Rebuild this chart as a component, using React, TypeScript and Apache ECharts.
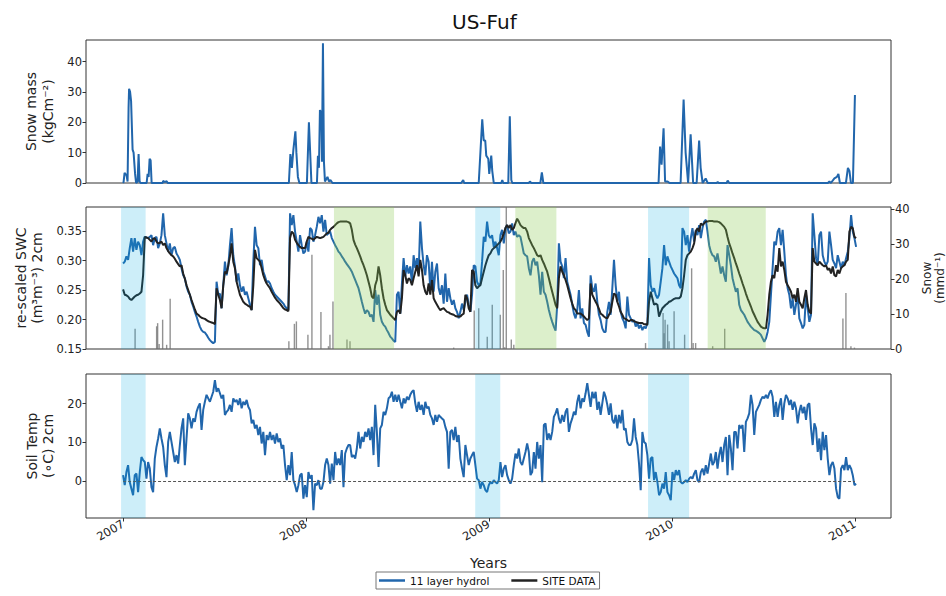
import React, { useEffect, useRef } from "react";
import * as echarts from "echarts";

const FONT = "DejaVu Sans";

// x values are days since 2007-01-01
const yearTicks = [0, 365, 730, 1096, 1461];
const yearLabels = ["2007", "2008", "2009", "2010", "2011"];
const X_MIN = -74;
const X_MAX = 1533;

// regular sampling of the model/site series (days)
const START_DAY = 0;
const STEP_DAYS = 10 / 3;

const snowMass: number[][] = [
  [0,0],[1,0.3],[3,3.3],[7,2.5],[9,0.5],[11,25],[12,31],[14,30],[16,27],[19,11],[21,10],[24,3],[26,0],[29,0.5],[31,9.5],[33,0.5],[35,0],
  [47,0],[49,3],[51,2],[53,8],[55,7.5],[57,0],[79,0],[80,0.7],[83,0.3],[87,0.6],[89,0],
  [331,0],[334,9.5],[337,5],[340,11],[344,17],[346,10],[349,2],[352,0],[367,0],[371,20],[373,12],[376,0],
  [387,0],[389,9],[391,5],[393,24],[396,23],[397,7],[399,46],[401,7],[403,0.5],[408,2],[411,0.5],[414,1],[418,0],
  [675,0],[679,1],[681,0],[710,0],[717,21],[720,14],[723,14],[725,9],[729,8],[731,3],[735,9],[737,4],[740,0],
  [755,0],[757,1],[759,0],[769,0],[772,22],[775,1],[777,0],[810,0],[812,0.5],[815,0],[833,0],[836,3.5],[839,0],
  [1069,0],[1072,12],[1075,6],[1079,18],[1082,0.5],[1087,0.5],[1091,0],[1113,0],[1119,27.5],[1123,10],[1128,0],
  [1133,16],[1138,0],[1145,0],[1150,14],[1153,5],[1157,0],[1163,1.5],[1167,0],[1185,0],[1187,0.3],[1189,0],
  [1205,0],[1207,0.8],[1210,0],[1407,0],[1410,0.5],[1413,0],[1420,1.5],[1425,2],[1428,3],[1431,0],
  [1443,0],[1447,5],[1450,4],[1453,0],[1457,0],[1461,29],
];

const snowObs: number[][] = [
  [24,5.8],[67,6.5],[69,7.4],[72,1.4],[79,8.4],[87,1.2],[94,14.4],[331,2.2],[342,7.2],[346,7.9],[369,4.1],
  [377,27],[395,10.6],[410,0.8],[413,4.1],[419,13.6],[447,2.7],[453,2.2],[660,0.4],[701,11],[710,11.7],
  [727,3.5],[737,12.7],[753,9.8],[759,22.6],[762,0.5],[765,42],[775,2.7],[780,1.2],[1043,1.7],[1078,10.3],
  [1080,4.5],[1082,8.4],[1087,7],[1090,2.2],[1100,10.8],[1121,4.1],[1135,23.1],[1138,1.7],[1143,1.7],
  [1177,0.8],[1201,5.8],[1437,8.7],[1443,16],[1453,0.8],[1460,0.4],
];

const swcModel: number[] = [
  .295,.298,.307,.301,.321,.338,.315,.338,.318,.332,
  .326,.309,.332,.340,.339,.338,.340,.343,.326,.338,
  .340,.321,.329,.343,.380,.343,.329,.315,.329,.309,
  .321,.323,.312,.307,.301,.287,.275,.270,.256,.247,
  .242,.230,.222,.213,.205,.196,.188,.182,.179,.178,
  .174,.169,.165,.162,.160,.162,.264,.242,.244,.219,
  .258,.298,.275,.290,.326,.355,.309,.290,.264,.278,
  .258,.247,.256,.242,.247,.236,.225,.216,.298,.357,
  .326,.321,.292,.301,.281,.273,.264,.265,.261,.253,
  .247,.242,.239,.236,.233,.230,.227,.222,.219,.216,
  .380,.360,.377,.349,.332,.315,.343,.326,.312,.315,
  .332,.315,.355,.352,.332,.343,.357,.374,.363,.377,
  .349,.369,.343,.346,.349,
  .338,.332,.326,.321,.315,.312,.307,.303,.298,.294,
  .290,.286,.281,.274,.267,.260,.253,.242,.230,.219,
  .210,.216,.213,.205,.208,.196,.250,.225,.242,.208,
  .196,.191,.188,.182,.177,.171,.168,.164,.162,.242,
  .247,.210,.261,.304,.273,.292,.278,.290,.261,.309,
  .287,.304,.278,.366,.321,.292,.275,.309,.298,.250,
  .298,.247,.281,.295,.253,.242,.258,.227,.278,.230,
  .253,.236,.225,.233,.219,.213,.202,.213,.227,.216,
  .230,.242,.225,.213,.242,.292,.290,.264,.258,.261,
  .298,.340,.332,.366,.343,.338,.343,.323,.332,.321,
  .309,.343,.352,.329,.355,.360,.346,.349,.363,.343,
  .349,.340,.343,.340,.326,.312,.309,.307,.287,.275,
  .298,.304,.292,.298,.275,.242,.281,.247,.242,.230,
  .216,.205,.196,.188,.181,.225,.329,.298,.290,.270,
  .304,.264,.253,.242,.225,.210,.202,.216,.250,.202,
  .219,.194,.191,.179,.171,.275,.253,.247,.261,.230,
  .208,.199,.185,.179,.179,.213,.230,.208,.253,.301,
  .258,.230,.247,.213,.202,.196,.185,.239,.208,
  .202,.196,.199,.188,.194,.185,.191,.182,.188,.185,
  .194,.304,.258,.247,.253,.242,.236,.242,.264,.287,
  .326,.292,.307,.298,.290,.284,.278,.274,.270,.258,
  .253,.355,.349,.326,.343,.315,.338,.355,.332,.352,
  .343,.360,.338,.355,.366,.369,.349,.326,.315,.309,
  .307,.298,.312,.295,.278,.290,.275,.264,.326,.309,
  .292,.270,.258,.247,.253,.225,.216,.212,.208,.202,
  .196,.192,.188,.185,.182,.181,.179,.177,.174,.168,
  .162,.168,.179,.196,.242,.287,.332,.326,.349,.355,
  .326,.352,.315,.275,.253,.242,.219,.236,.208,.225,
  .242,.202,.194,.185,.191,.242,.219,.196,.208,.380,
  .343,.304,.292,.343,.349,.309,.298,.292,.298,.349,
  .326,.301,.295,.287,.309,.298,.287,.298,.292,.304,
  .315,.338,.377,.349,.338,.323,
];

const swcSite: number[] = [
  .251,.242,.241,.239,.235,.233,.236,.239,.241,.242,
  .244,.247,.275,.340,.339,.338,.335,.332,.337,.338,
  .332,.329,.330,.332,.326,.329,.321,.316,.312,.309,
  .307,.303,.298,.294,.290,.292,.278,.269,.258,.250,
  .242,.233,.225,.217,.210,.208,.205,.203,.202,.201,
  .199,.197,.196,.195,.194,.192,.253,.242,.233,.219,
  .258,.281,.278,.292,.307,.329,.298,.287,.264,.253,
  .242,.236,.230,.227,.225,.223,.222,.216,.258,.318,
  .304,.301,.298,.287,.275,.267,.261,.257,.253,.247,
  .242,.237,.233,.230,.227,.223,.219,.217,.216,.214,
  .338,.349,.346,.335,.330,.326,.323,.321,.321,.321,
  .332,.340,.338,.337,.335,.338,.340,.339,.338,.339,
  .340,.343,.346,.347,.352,
  .355,.357,.360,.363,.365,.366,.366,.366,.366,.366,
  .365,.363,.352,.335,.327,.321,.314,.307,.299,.292,
  .284,.275,.264,.253,.239,.236,.258,.267,.290,.275,
  .253,.236,.225,.216,.212,.208,.205,.202,.199,.213,
  .216,.210,.236,.284,.275,.261,.270,.267,.258,.270,
  .281,.292,.273,.301,.284,.258,.247,.242,.261,.242,
  .267,.236,.230,.225,.220,.216,.218,.219,.216,.213,
  .212,.210,.209,.208,.206,.205,.205,.205,.208,.210,
  .242,.236,.219,.213,.284,.281,.258,.253,.256,.258,
  .270,.281,.292,.301,.309,.312,.318,.321,.323,.326,
  .329,.332,.338,.346,.355,.360,.355,.360,.352,.355,
  .363,.371,.366,.360,.357,.355,.355,.349,.338,.332,
  .326,.321,.315,.309,.307,.309,.301,.295,.288,.281,
  .270,.258,.247,.236,.225,.219,.270,.290,.281,.275,
  .267,.258,.247,.236,.227,.219,.216,.210,.210,.210,
  .208,.205,.202,.199,.202,.261,.242,.236,.230,.225,
  .218,.210,.208,.205,.203,.202,.208,.213,.230,.244,
  .242,.230,.222,.213,.208,.202,.201,.199,.197,
  .199,.199,.197,.196,.195,.194,.194,.194,.192,.192,
  .191,.230,.247,.236,.225,.227,.225,.205,.213,.219,
  .222,.225,.227,.230,.231,.233,.235,.236,.236,.236,
  .239,.253,.275,.301,.309,.312,.315,.321,.329,.349,
  .355,.349,.363,.360,.363,.366,.366,.367,.367,.367,
  .366,.366,.366,.365,.363,.360,.357,.352,.340,.329,
  .321,.312,.304,.295,.287,.278,.270,.261,.253,.244,
  .236,.229,.222,.214,.208,.202,.196,.192,.188,.186,
  .185,.185,.208,.242,.264,.275,.270,.292,.281,.321,
  .290,.298,.284,.264,.258,.253,.247,.236,.242,.230,
  .253,.230,.225,.219,.236,.250,.225,.213,.210,.321,
  .298,.295,.292,.298,.295,.292,.290,.292,.284,.287,
  .278,.290,.275,.273,.284,.278,.287,.290,.292,.298,
  .301,.349,.357,.355,.340,.338,
];

const soilTemp: number[] = [
  1.5,-1.1,2.3,4.1,-0.3,-2.0,-3.7,1.5,1.9,-2.9,
  2.3,6.2,5.4,4.9,0.6,4.9,3.2,-1.6,-2.9,5.8,
  8.8,11.0,13.6,11.0,8.8,4.1,1.0,10.1,12.7,10.1,
  7.5,4.9,6.7,4.5,9.3,13.6,16.2,4.1,11.0,17.5,
  16.2,13.6,16.2,15.3,17.9,19.2,20.1,13.2,18.4,20.5,
  22.3,21.4,20.5,21.8,23.1,26.1,23.1,24.0,22.7,21.4,
  22.3,17.1,17.9,18.4,19.7,17.9,21.4,20.5,21.0,19.7,
  21.4,18.8,20.5,19.7,21.0,19.2,18.4,14.9,15.8,13.6,
  14.5,11.9,14.0,9.7,12.7,6.7,11.9,10.6,12.7,10.6,
  11.9,9.7,12.3,10.1,11.0,8.4,9.3,4.1,0.2,4.1,
  1.5,7.5,0.2,-1.1,-2.9,-1.1,1.5,1.9,-4.6,-1.1,
  -4.2,2.3,0.6,1.5,-7.6,-0.7,-1.1,0.2,-2.0,-2.0,
  -0.3,4.1,5.8,4.1,
  -0.7,4.5,0.2,7.5,4.1,5.8,4.1,8.0,-1.6,7.1,
  8.4,9.3,9.3,6.2,6.7,5.8,8.4,12.7,8.4,11.4,
  10.1,12.7,11.4,13.6,10.6,14.0,6.7,19.7,12.7,3.6,
  13.6,14.5,17.9,17.1,18.8,21.4,21.8,23.1,20.5,22.3,
  20.5,22.3,20.5,18.8,21.4,20.1,21.8,21.0,22.3,23.1,
  23.5,20.1,17.9,20.5,18.4,19.7,17.1,20.5,18.8,19.2,
  17.1,16.2,14.5,17.1,15.3,17.1,16.6,16.2,15.8,14.0,
  12.7,3.2,12.7,13.2,10.6,14.0,10.1,11.9,5.8,3.2,
  1.0,9.3,6.7,4.1,5.8,6.7,7.5,4.1,0.6,0.2,
  -2.0,-0.3,-1.1,-2.4,-2.9,-1.1,-0.3,-0.7,0.2,-0.3,
  -0.7,0.2,4.9,1.0,3.2,4.1,1.5,0.2,-0.7,0.6,
  4.1,7.1,5.8,8.4,4.9,4.1,5.8,7.5,9.7,7.5,
  1.5,2.3,7.5,3.2,10.1,5.8,9.3,-0.3,14.5,14.9,
  10.6,12.3,10.6,12.7,16.6,17.5,18.8,16.2,14.9,17.1,
  15.3,17.9,18.8,12.7,14.9,16.2,17.9,17.1,20.5,22.3,
  18.8,21.4,20.5,22.7,25.3,22.3,19.2,23.1,21.4,23.1,
  18.4,20.5,17.1,20.1,23.1,21.8,19.7,17.1,20.1,15.8,
  14.9,17.1,13.6,17.1,14.9,18.4,13.2,13.6,10.1,9.3,
  9.3,10.6,16.2,11.4,9.3,4.5,-2.4,12.7,10.1,9.7,
  6.7,0.6,5.8,6.2,0.2,2.3,-0.3,-3.7,-2.9,-0.7,
  -2.0,2.3,-2.9,-3.7,-5.0,2.3,0.2,2.8,1.5,2.8,
  -0.3,-0.7,-0.3,0.2,-0.3,0.6,1.0,0.6,1.9,2.8,
  0.2,-0.3,2.3,3.2,1.5,4.1,1.9,4.5,7.1,4.1,
  4.9,7.5,3.2,6.7,8.8,4.9,9.3,11.4,1.5,11.9,
  8.4,2.8,12.7,12.7,8.4,14.5,13.6,14.5,7.5,15.3,
  16.2,17.5,22.3,19.7,11.9,17.9,18.8,19.7,21.0,21.8,
  21.4,22.3,21.4,22.7,23.5,21.8,16.6,20.5,16.6,19.7,
  21.4,15.8,20.1,22.3,21.4,19.7,21.0,18.4,20.5,18.8,
  14.9,17.9,19.7,17.5,19.2,15.8,19.7,20.1,13.6,9.3,
  14.9,13.6,7.5,11.0,5.4,12.7,8.0,11.9,5.8,1.5,
  4.1,4.9,3.2,-2.0,-4.2,-4.6,3.2,4.1,2.8,6.2,
  2.8,4.1,3.2,1.5,-1.1,-0.7,
];

// shaded periods [start day, end day]
const blueSeasons = [[-4, 45], [703, 753], [1048, 1130]];
const greenSeasons = [[421, 541], [783, 865], [1167, 1283]];

const BLUE = "#2166ac";
const BLACK = "#222222";
const BAR_GRAY = "rgba(110,110,110,0.75)";
const BLUE_SHADE = "rgba(5,170,225,0.2)";
const GREEN_SHADE = "rgba(138,202,82,0.3)";

const toPairs = (vals: number[]) => vals.map((v, i) => [START_DAY + i * STEP_DAYS, v]);

const tickStyle = { show: true, length: 3.5, inside: false, lineStyle: { color: "#333", width: 1 } };
const labelStyle = { fontSize: 11.5, fontFamily: FONT, color: "#222" };

function xAxisFor(gridIndex: number, show: boolean) {
  return {
    type: "value",
    gridIndex,
    min: X_MIN,
    max: X_MAX,
    axisLine: { show: false, onZero: false },
    splitLine: { show: false },
    axisTick: { ...tickStyle, show, customValues: yearTicks },
    axisLabel: {
      ...labelStyle,
      show,
      customValues: yearTicks,
      rotate: 30,
      margin: 5,
      formatter: (v: number) => {
        const k = yearTicks.indexOf(Math.round(v));
        return k >= 0 ? yearLabels[k] : "";
      },
    },
    ...(show
      ? {
          name: "Years",
          nameLocation: "middle",
          nameGap: 38,
          nameTextStyle: { fontSize: 14, fontFamily: FONT, color: "#222" },
        }
      : {}),
  };
}

function yAxisFor(
  gridIndex: number,
  min: number,
  max: number,
  ticks: number[],
  name: string,
  nameGap: number,
  position: "left" | "right",
  fmt?: (v: number) => string,
  nameSize = 14,
  nameLineHeight = 17
) {
  return {
    type: "value",
    gridIndex,
    position,
    min,
    max,
    name,
    nameLocation: "middle",
    nameRotate: 90,
    nameGap,
    nameTextStyle: { fontSize: nameSize, lineHeight: nameLineHeight, fontFamily: FONT, color: "#222", align: "center" },
    axisLine: { show: false, onZero: false },
    splitLine: { show: false },
    axisTick: { ...tickStyle, customValues: ticks },
    axisLabel: {
      ...labelStyle,
      margin: 4,
      customValues: ticks,
      formatter: fmt ? fmt : (v: number) => String(v),
    },
  };
}

const gridBase = {
  left: 86,
  width: 805,
  show: true,
  borderColor: "#333",
  borderWidth: 1,
  backgroundColor: "transparent",
  containLabel: false,
  outerBoundsMode: "none",
};

function shadeData(includeGreen: boolean) {
  const d: any[] = blueSeasons.map(([a, b]) => [{ xAxis: a, itemStyle: { color: BLUE_SHADE } }, { xAxis: b }]);
  if (includeGreen) {
    greenSeasons.forEach(([a, b]) => d.push([{ xAxis: a, itemStyle: { color: GREEN_SHADE } }, { xAxis: b }]));
  }
  return d;
}

const lineCommon = { type: "line", showSymbol: false, symbol: "none", silent: true, clip: true };

const option: any = {
  animation: false,
  backgroundColor: "#ffffff",
  textStyle: { fontFamily: FONT },
  title: {
    text: "US-Fuf",
    left: 447,
    top: 7,
    textStyle: { fontSize: 20, fontWeight: "normal", fontFamily: FONT, color: "#111" },
  },
  legend: {
    data: [{ name: "11 layer hydrol" }, { name: "SITE DATA" }],
    left: 376,
    top: 572,
    icon: "rect",
    itemWidth: 26,
    itemHeight: 2.5,
    itemGap: 22,
    padding: [3, 4, 3, 3],
    borderColor: "#777",
    borderWidth: 1,
    borderRadius: 0,
    textStyle: { fontSize: 10.5, fontFamily: FONT, color: "#111" },
  },
  grid: [
    { ...gridBase, top: 40, height: 143 },
    { ...gridBase, top: 207, height: 142 },
    { ...gridBase, top: 374, height: 144 },
  ],
  xAxis: [xAxisFor(0, false), xAxisFor(1, false), xAxisFor(2, true)],
  yAxis: [
    yAxisFor(0, 0, 47.1, [0, 10, 20, 30, 40], "Snow mass\n(kgCm\u207B\u00B2)", 28, "left"),
    yAxisFor(1, 0.15, 0.3907, [0.15, 0.2, 0.25, 0.3, 0.35], "re-scaled SWC\n(m\u00B3m\u207B\u00B3) 2cm", 33, "left", (v) => v.toFixed(2), 14, 16),
    yAxisFor(1, 0, 40.65, [0, 10, 20, 30, 40], "Snow\n(mmd\u207B\u00B9)", 24, "right", undefined, 12, 13),
    yAxisFor(2, -9.6, 27.7, [0, 10, 20], "Soil Temp\n(\u2218C) 2cm", 29, "left", undefined, 14, 16),
  ],
  series: [
    {
      ...lineCommon,
      name: "11 layer hydrol",
      xAxisIndex: 0,
      yAxisIndex: 0,
      data: snowMass,
      color: BLUE,
      lineStyle: { color: BLUE, width: 2 },
      z: 2,
    },
    {
      type: "custom",
      xAxisIndex: 1,
      yAxisIndex: 2,
      data: snowObs,
      silent: true,
      clip: true,
      z: 1,
      renderItem: (_params: any, api: any) => {
        const x = api.value(0);
        const v = api.value(1);
        const top = api.coord([x, v]);
        const base = api.coord([x, 0]);
        return {
          type: "line",
          shape: { x1: top[0], y1: top[1], x2: base[0], y2: base[1] },
          style: { stroke: BAR_GRAY, lineWidth: 1.4 },
        };
      },
    },
    {
      ...lineCommon,
      name: "11 layer hydrol",
      xAxisIndex: 1,
      yAxisIndex: 1,
      data: toPairs(swcModel),
      color: BLUE,
      lineStyle: { color: BLUE, width: 2 },
      z: 2,
    },
    {
      ...lineCommon,
      name: "SITE DATA",
      xAxisIndex: 1,
      yAxisIndex: 1,
      data: toPairs(swcSite),
      color: BLACK,
      lineStyle: { color: BLACK, width: 2 },
      z: 3,
      markArea: { silent: true, z: 6, data: shadeData(true) },
    },
    {
      ...lineCommon,
      name: "11 layer hydrol",
      xAxisIndex: 2,
      yAxisIndex: 3,
      data: toPairs(soilTemp),
      color: BLUE,
      lineStyle: { color: BLUE, width: 2 },
      z: 2,
      markArea: { silent: true, z: 6, data: shadeData(false) },
      markLine: {
        silent: true,
        symbol: ["none", "none"],
        label: { show: false },
        lineStyle: { type: [3, 2], color: "#555", width: 1 },
        data: [[{ coord: [yearTicks[0], 0] }, { coord: [yearTicks[4], 0] }]],
      },
    },
  ],
};

export default function App() {
  const ref = useRef<HTMLDivElement>(null);
  useEffect(() => {
    if (!ref.current) return;
    const chart = echarts.init(ref.current, null, { renderer: "svg" });
    chart.setOption(option);
    return () => chart.dispose();
  }, []);
  return (
    <div
      ref={ref}
      style={{ position: "absolute", left: 0, top: 0, width: 946, height: 596, background: "#fff" }}
    />
  );
}
